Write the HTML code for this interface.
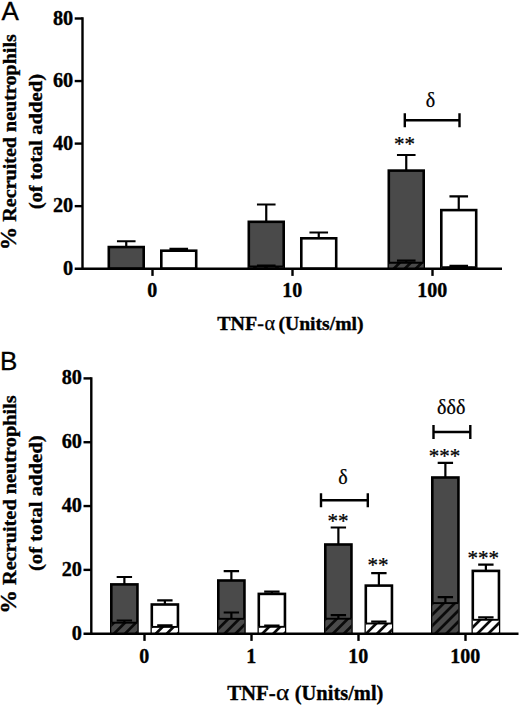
<!DOCTYPE html>
<html><head><meta charset="utf-8"><title>Figure</title>
<style>
html,body{margin:0;padding:0;background:#fff;}
body{width:520px;height:706px;overflow:hidden;}
svg{display:block;}
text{font-family:"Liberation Serif",serif;fill:#000;stroke:#000;stroke-width:0.25px;}
.b{font-weight:bold;stroke:#000;stroke-width:0.35px;}
.s{font-family:"Liberation Sans",sans-serif;stroke-width:0.3px;}
</style></head><body>
<svg width="520" height="706" viewBox="0 0 520 706">
<rect width="520" height="706" fill="#fff"/>

<path d="M126.25,241.25 V246.75 M116.95,241.25 H135.55" stroke="#000" stroke-width="2.2" fill="none"/>
<rect x="108.80" y="247.05" width="34.90" height="21.65" fill="#4a4a4a" stroke="#000" stroke-width="2.6"/>
<path d="M178.75,248.90 V250.40 M169.45,248.90 H188.05" stroke="#000" stroke-width="2.2" fill="none"/>
<rect x="161.30" y="250.70" width="34.90" height="18.00" fill="#fff" stroke="#000" stroke-width="2.6"/>
<path d="M266.25,204.50 V221.50 M256.95,204.50 H275.55" stroke="#000" stroke-width="2.2" fill="none"/>
<rect x="248.80" y="221.80" width="34.90" height="46.90" fill="#4a4a4a" stroke="#000" stroke-width="2.6"/>
<clipPath id="c1"><rect x="248.80" y="266.00" width="34.90" height="2.70"/></clipPath>
<rect x="248.80" y="266.00" width="34.90" height="2.70" fill="#4a4a4a"/>
<path clip-path="url(#c1)" d="M250.80,271.70 L259.50,263.00 M261.80,271.70 L270.50,263.00 M272.80,271.70 L281.50,263.00" stroke="#0a0a0a" stroke-width="2.7" fill="none"/>
<path d="M248.80,266.50 H283.70" stroke="#000" stroke-width="1.9" fill="none"/>
<path d="M266.25,265.60 V266.00 M256.95,265.60 H275.55" stroke="#000" stroke-width="2.2" fill="none"/>
<path d="M318.75,232.50 V238.00 M309.45,232.50 H328.05" stroke="#000" stroke-width="2.2" fill="none"/>
<rect x="301.30" y="238.30" width="34.90" height="30.40" fill="#fff" stroke="#000" stroke-width="2.6"/>
<path d="M406.25,155.00 V170.30 M396.95,155.00 H415.55" stroke="#000" stroke-width="2.2" fill="none"/>
<rect x="388.80" y="170.60" width="34.90" height="98.10" fill="#4a4a4a" stroke="#000" stroke-width="2.6"/>
<clipPath id="c2"><rect x="388.80" y="262.20" width="34.90" height="6.50"/></clipPath>
<rect x="388.80" y="262.20" width="34.90" height="6.50" fill="#4a4a4a"/>
<path clip-path="url(#c2)" d="M379.80,271.70 L392.30,259.20 M390.80,271.70 L403.30,259.20 M401.80,271.70 L414.30,259.20 M412.80,271.70 L425.30,259.20" stroke="#0a0a0a" stroke-width="2.7" fill="none"/>
<path d="M388.80,262.70 H423.70" stroke="#000" stroke-width="1.9" fill="none"/>
<path d="M406.25,260.60 V262.20 M396.95,260.60 H415.55" stroke="#000" stroke-width="2.2" fill="none"/>
<path d="M458.75,196.30 V209.80 M449.45,196.30 H468.05" stroke="#000" stroke-width="2.2" fill="none"/>
<rect x="441.30" y="210.10" width="34.90" height="58.60" fill="#fff" stroke="#000" stroke-width="2.6"/>
<clipPath id="c3"><rect x="441.30" y="266.80" width="34.90" height="1.90"/></clipPath>
<rect x="441.30" y="266.80" width="34.90" height="1.90" fill="#fff"/>
<path clip-path="url(#c3)" d="M443.30,271.70 L451.20,263.80 M454.30,271.70 L462.20,263.80 M465.30,271.70 L473.20,263.80" stroke="#0a0a0a" stroke-width="2.7" fill="none"/>
<path d="M441.30,267.30 H476.20" stroke="#000" stroke-width="1.9" fill="none"/>
<path d="M458.75,265.80 V266.80 M449.45,265.80 H468.05" stroke="#000" stroke-width="2.2" fill="none"/>
<path d="M82.50,17.30 V269.90 M74.70,268.70 H502.00" stroke="#000" stroke-width="2.4" fill="none"/>
<path d="M74.70,206.15 H82.50" stroke="#000" stroke-width="2.4"/>
<path d="M74.70,143.60 H82.50" stroke="#000" stroke-width="2.4"/>
<path d="M74.70,81.05 H82.50" stroke="#000" stroke-width="2.4"/>
<path d="M74.70,18.50 H82.50" stroke="#000" stroke-width="2.4"/>
<text class="b" x="73.20" y="274.70" font-size="20.3" text-anchor="end">0</text>
<text class="b" x="73.20" y="212.15" font-size="20.3" text-anchor="end">20</text>
<text class="b" x="73.20" y="149.60" font-size="20.3" text-anchor="end">40</text>
<text class="b" x="73.20" y="87.05" font-size="20.3" text-anchor="end">60</text>
<text class="b" x="73.20" y="24.50" font-size="20.3" text-anchor="end">80</text>
<path d="M152.50,268.70 V275.90" stroke="#000" stroke-width="2.4"/>
<text class="b" x="152.20" y="296.60" font-size="20" text-anchor="middle">0</text>
<path d="M292.50,268.70 V275.90" stroke="#000" stroke-width="2.4"/>
<text class="b" x="292.20" y="296.60" font-size="20" text-anchor="middle">10</text>
<path d="M432.50,268.70 V275.90" stroke="#000" stroke-width="2.4"/>
<text class="b" x="432.20" y="296.60" font-size="20" text-anchor="middle">100</text>
<path d="M124.38,577.00 V584.10 M116.67,577.00 H132.07" stroke="#000" stroke-width="2.2" fill="none"/>
<rect x="111.30" y="584.40" width="26.15" height="49.30" fill="#4a4a4a" stroke="#000" stroke-width="2.6"/>
<clipPath id="c4"><rect x="111.30" y="622.20" width="26.15" height="11.50"/></clipPath>
<rect x="111.30" y="622.20" width="26.15" height="11.50" fill="#4a4a4a"/>
<path clip-path="url(#c4)" d="M100.00,636.70 L117.50,619.20 M111.00,636.70 L128.50,619.20 M122.00,636.70 L139.50,619.20 M133.00,636.70 L150.50,619.20" stroke="#0a0a0a" stroke-width="2.7" fill="none"/>
<path d="M111.30,622.70 H137.45" stroke="#000" stroke-width="1.9" fill="none"/>
<path d="M124.38,620.50 V622.20 M116.67,620.50 H132.07" stroke="#000" stroke-width="2.2" fill="none"/>
<path d="M164.88,600.40 V604.20 M157.18,600.40 H172.57" stroke="#000" stroke-width="2.2" fill="none"/>
<rect x="151.80" y="604.50" width="26.15" height="29.20" fill="#fff" stroke="#000" stroke-width="2.6"/>
<clipPath id="c5"><rect x="151.80" y="626.40" width="26.15" height="7.30"/></clipPath>
<rect x="151.80" y="626.40" width="26.15" height="7.30" fill="#fff"/>
<path clip-path="url(#c5)" d="M141.80,636.70 L155.10,623.40 M152.80,636.70 L166.10,623.40 M163.80,636.70 L177.10,623.40 M174.80,636.70 L188.10,623.40" stroke="#0a0a0a" stroke-width="2.7" fill="none"/>
<path d="M151.80,626.90 H177.95" stroke="#000" stroke-width="1.9" fill="none"/>
<path d="M164.88,625.40 V626.40 M157.18,625.40 H172.57" stroke="#000" stroke-width="2.2" fill="none"/>
<path d="M231.38,571.10 V580.20 M223.68,571.10 H239.07" stroke="#000" stroke-width="2.2" fill="none"/>
<rect x="218.30" y="580.50" width="26.15" height="53.20" fill="#4a4a4a" stroke="#000" stroke-width="2.6"/>
<clipPath id="c6"><rect x="218.30" y="618.30" width="26.15" height="15.40"/></clipPath>
<rect x="218.30" y="618.30" width="26.15" height="15.40" fill="#4a4a4a"/>
<path clip-path="url(#c6)" d="M199.50,636.70 L220.90,615.30 M210.50,636.70 L231.90,615.30 M221.50,636.70 L242.90,615.30 M232.50,636.70 L253.90,615.30 M243.50,636.70 L264.90,615.30" stroke="#0a0a0a" stroke-width="2.7" fill="none"/>
<path d="M218.30,618.80 H244.45" stroke="#000" stroke-width="1.9" fill="none"/>
<path d="M231.38,612.50 V618.30 M223.68,612.50 H239.07" stroke="#000" stroke-width="2.2" fill="none"/>
<path d="M271.88,591.60 V593.60 M264.18,591.60 H279.57" stroke="#000" stroke-width="2.2" fill="none"/>
<rect x="258.80" y="593.90" width="26.15" height="39.80" fill="#fff" stroke="#000" stroke-width="2.6"/>
<clipPath id="c7"><rect x="258.80" y="626.30" width="26.15" height="7.40"/></clipPath>
<rect x="258.80" y="626.30" width="26.15" height="7.40" fill="#fff"/>
<path clip-path="url(#c7)" d="M248.30,636.70 L261.70,623.30 M259.30,636.70 L272.70,623.30 M270.30,636.70 L283.70,623.30 M281.30,636.70 L294.70,623.30" stroke="#0a0a0a" stroke-width="2.7" fill="none"/>
<path d="M258.80,626.80 H284.95" stroke="#000" stroke-width="1.9" fill="none"/>
<path d="M271.88,625.70 V626.30 M264.18,625.70 H279.57" stroke="#000" stroke-width="2.2" fill="none"/>
<path d="M338.38,527.50 V544.20 M330.68,527.50 H346.07" stroke="#000" stroke-width="2.2" fill="none"/>
<rect x="325.30" y="544.50" width="26.15" height="89.20" fill="#4a4a4a" stroke="#000" stroke-width="2.6"/>
<clipPath id="c8"><rect x="325.30" y="618.20" width="26.15" height="15.50"/></clipPath>
<rect x="325.30" y="618.20" width="26.15" height="15.50" fill="#4a4a4a"/>
<path clip-path="url(#c8)" d="M307.90,636.70 L329.40,615.20 M318.90,636.70 L340.40,615.20 M329.90,636.70 L351.40,615.20 M340.90,636.70 L362.40,615.20" stroke="#0a0a0a" stroke-width="2.7" fill="none"/>
<path d="M325.30,618.70 H351.45" stroke="#000" stroke-width="1.9" fill="none"/>
<path d="M338.38,615.20 V618.20 M330.68,615.20 H346.07" stroke="#000" stroke-width="2.2" fill="none"/>
<path d="M378.88,573.10 V585.30 M371.18,573.10 H386.57" stroke="#000" stroke-width="2.2" fill="none"/>
<rect x="365.80" y="585.60" width="26.15" height="48.10" fill="#fff" stroke="#000" stroke-width="2.6"/>
<clipPath id="c9"><rect x="365.80" y="623.00" width="26.15" height="10.70"/></clipPath>
<rect x="365.80" y="623.00" width="26.15" height="10.70" fill="#fff"/>
<path clip-path="url(#c9)" d="M352.10,636.70 L368.80,620.00 M363.10,636.70 L379.80,620.00 M374.10,636.70 L390.80,620.00 M385.10,636.70 L401.80,620.00" stroke="#0a0a0a" stroke-width="2.7" fill="none"/>
<path d="M365.80,623.50 H391.95" stroke="#000" stroke-width="1.9" fill="none"/>
<path d="M378.88,621.70 V623.00 M371.18,621.70 H386.57" stroke="#000" stroke-width="2.2" fill="none"/>
<path d="M445.38,462.80 V477.20 M437.68,462.80 H453.07" stroke="#000" stroke-width="2.2" fill="none"/>
<rect x="432.30" y="477.50" width="26.15" height="156.20" fill="#4a4a4a" stroke="#000" stroke-width="2.6"/>
<clipPath id="c10"><rect x="432.30" y="602.60" width="26.15" height="31.10"/></clipPath>
<rect x="432.30" y="602.60" width="26.15" height="31.10" fill="#4a4a4a"/>
<path clip-path="url(#c10)" d="M399.30,636.70 L436.40,599.60 M410.30,636.70 L447.40,599.60 M421.30,636.70 L458.40,599.60 M432.30,636.70 L469.40,599.60 M443.30,636.70 L480.40,599.60 M454.30,636.70 L491.40,599.60" stroke="#0a0a0a" stroke-width="2.7" fill="none"/>
<path d="M432.30,603.10 H458.45" stroke="#000" stroke-width="1.9" fill="none"/>
<path d="M445.38,597.20 V602.60 M437.68,597.20 H453.07" stroke="#000" stroke-width="2.2" fill="none"/>
<path d="M485.88,564.60 V570.60 M478.18,564.60 H493.57" stroke="#000" stroke-width="2.2" fill="none"/>
<rect x="472.80" y="570.90" width="26.15" height="62.80" fill="#fff" stroke="#000" stroke-width="2.6"/>
<clipPath id="c11"><rect x="472.80" y="619.30" width="26.15" height="14.40"/></clipPath>
<rect x="472.80" y="619.30" width="26.15" height="14.40" fill="#fff"/>
<path clip-path="url(#c11)" d="M463.30,636.70 L483.70,616.30 M474.30,636.70 L494.70,616.30 M485.30,636.70 L505.70,616.30 M496.30,636.70 L516.70,616.30" stroke="#0a0a0a" stroke-width="2.7" fill="none"/>
<path d="M472.80,619.80 H498.95" stroke="#000" stroke-width="1.9" fill="none"/>
<path d="M485.88,617.40 V619.30 M478.18,617.40 H493.57" stroke="#000" stroke-width="2.2" fill="none"/>
<path d="M91.30,377.20 V634.90 M83.50,633.70 H518.50" stroke="#000" stroke-width="2.4" fill="none"/>
<path d="M83.50,569.88 H91.30" stroke="#000" stroke-width="2.4"/>
<path d="M83.50,506.05 H91.30" stroke="#000" stroke-width="2.4"/>
<path d="M83.50,442.23 H91.30" stroke="#000" stroke-width="2.4"/>
<path d="M83.50,378.40 H91.30" stroke="#000" stroke-width="2.4"/>
<text class="b" x="82.00" y="639.70" font-size="20.3" text-anchor="end">0</text>
<text class="b" x="82.00" y="575.88" font-size="20.3" text-anchor="end">20</text>
<text class="b" x="82.00" y="512.05" font-size="20.3" text-anchor="end">40</text>
<text class="b" x="82.00" y="448.23" font-size="20.3" text-anchor="end">60</text>
<text class="b" x="82.00" y="384.40" font-size="20.3" text-anchor="end">80</text>
<path d="M144.50,633.70 V640.90" stroke="#000" stroke-width="2.4"/>
<text class="b" x="144.20" y="662.60" font-size="20" text-anchor="middle">0</text>
<path d="M251.50,633.70 V640.90" stroke="#000" stroke-width="2.4"/>
<text class="b" x="251.20" y="662.60" font-size="20" text-anchor="middle">1</text>
<path d="M358.50,633.70 V640.90" stroke="#000" stroke-width="2.4"/>
<text class="b" x="358.20" y="662.60" font-size="20" text-anchor="middle">10</text>
<path d="M465.50,633.70 V640.90" stroke="#000" stroke-width="2.4"/>
<text class="b" x="465.20" y="662.60" font-size="20" text-anchor="middle">100</text>
<path d="M404.80,120.20 H459.50 M404.80,113.20 V127.20 M459.50,113.20 V127.20" stroke="#000" stroke-width="2.4" fill="none"/>
<path d="M321.00,500.20 H367.80 M321.00,493.20 V507.20 M367.80,493.20 V507.20" stroke="#000" stroke-width="2.4" fill="none"/>
<path d="M433.50,432.00 H470.30 M433.50,425.00 V439.00 M470.30,425.00 V439.00" stroke="#000" stroke-width="2.4" fill="none"/>
<text  x="430.50" y="106.60" font-size="20" text-anchor="middle" >δ</text>
<text  x="343.00" y="484.20" font-size="20" text-anchor="middle" >δ</text>
<text  x="451.20" y="413.70" font-size="20" text-anchor="middle" >δδδ</text>
<text  x="404.40" y="151.30" font-size="21" text-anchor="middle" stroke="none">**</text>
<text  x="338.10" y="528.00" font-size="21" text-anchor="middle" stroke="none">**</text>
<text  x="377.90" y="572.00" font-size="21" text-anchor="middle" stroke="none">**</text>
<text  x="444.40" y="462.50" font-size="21" text-anchor="middle" stroke="none">***</text>
<text  x="483.30" y="565.00" font-size="21" text-anchor="middle" stroke="none">***</text>
<text class="s" x="1.50" y="19.80" font-size="26" text-anchor="start" >A</text>
<text class="s" x="0.00" y="370.00" font-size="26" text-anchor="start" >B</text>
<text class="b" x="217.3" y="329.9" font-size="19.8" textLength="46.6" lengthAdjust="spacingAndGlyphs">TNF-</text>
<text x="264.6" y="329.9" font-size="20.5" stroke="none" textLength="10.6" lengthAdjust="spacingAndGlyphs">α</text>
<text class="b" x="278.4" y="329.9" font-size="19.8" textLength="85.2" lengthAdjust="spacingAndGlyphs">(Units/ml)</text>
<text class="b" x="227.2" y="699.6" font-size="20.8" textLength="48.6" lengthAdjust="spacingAndGlyphs">TNF-</text>
<text x="275.9" y="699.6" font-size="22.5" stroke="none" textLength="13.2" lengthAdjust="spacingAndGlyphs">α</text>
<text class="b" x="294.8" y="699.6" font-size="20.8" textLength="88.6" lengthAdjust="spacingAndGlyphs">(Units/ml)</text>
<text class="b" transform="translate(16.4,142.2) rotate(-90)" font-size="19.3" text-anchor="middle" textLength="216" lengthAdjust="spacingAndGlyphs"><tspan font-size="22.6">%</tspan> Recruited neutrophils</text>
<text class="b" transform="translate(41.8,141.6) rotate(-90)" font-size="19.3" text-anchor="middle" textLength="135.5" lengthAdjust="spacingAndGlyphs">(of total added)</text>
<text class="b" transform="translate(16.4,504.6) rotate(-90)" font-size="19.5" text-anchor="middle" textLength="218.5" lengthAdjust="spacingAndGlyphs"><tspan font-size="22.8">%</tspan> Recruited neutrophils</text>
<text class="b" transform="translate(42.0,503.2) rotate(-90)" font-size="19.5" text-anchor="middle" textLength="135.8" lengthAdjust="spacingAndGlyphs">(of total added)</text>
</svg></body></html>
